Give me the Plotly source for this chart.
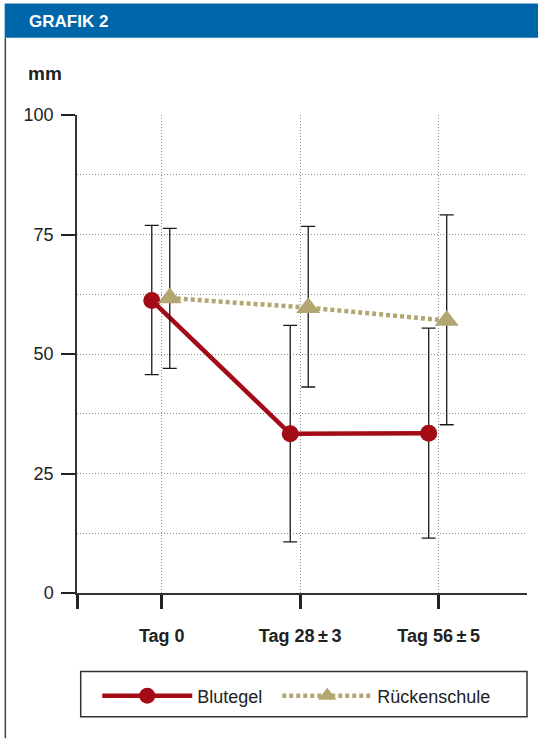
import plotly.graph_objects as go

categories = ["Tag 0", "Tag 28\u2009±\u20093", "Tag 56\u2009±\u20095"]
cat_pos = [0, 1, 2]

blutegel_mean = [61.2, 33.3, 33.4]
blutegel_upper = [76.9, 56.0, 55.4]
blutegel_lower = [45.7, 10.7, 11.5]

ruecken_mean = [61.7, 59.7, 57.0]
ruecken_upper = [76.3, 76.7, 79.1]
ruecken_lower = [47.0, 43.1, 35.2]

y_ticks = [0, 25, 50, 75, 100]

RED = "#a30c16"
KHAKI = "#b2a673"
GRID = "#8f8f8f"
GRID_DASH = "1px,2px"
FONT = "Liberation Sans Narrow, Arial Narrow, Liberation Sans, Arial, sans-serif"

W, H = 538, 739
L, R, T, B = 77.3, 11, 115, 145.5
x_left, x_right = -0.612, 2.638

off_b, off_r = -0.072, 0.058

fig = go.Figure()

fig.add_trace(go.Scatter(
    x=[p + off_b for p in cat_pos], y=blutegel_mean, name="Blutegel",
    mode="lines+markers", legend="legend",
    line=dict(color=RED, width=4.5),
    marker=dict(symbol="circle", size=17, color=RED),
    error_y=dict(type="data", symmetric=False,
                 array=[u - m for u, m in zip(blutegel_upper, blutegel_mean)],
                 arrayminus=[m - l for m, l in zip(blutegel_mean, blutegel_lower)],
                 color="#1a1a1a", thickness=1.3, width=7),
))

fig.add_trace(go.Scatter(
    x=[p + off_r for p in cat_pos], y=ruecken_mean, name="Rückenschule",
    mode="lines+markers", legend="legend2",
    line=dict(color=KHAKI, width=4.5, dash="4px,3px"),
    marker=dict(symbol="triangle-up", size=21, color=KHAKI),
    error_y=dict(type="data", symmetric=False,
                 array=[u - m for u, m in zip(ruecken_upper, ruecken_mean)],
                 arrayminus=[m - l for m, l in zip(ruecken_mean, ruecken_lower)],
                 color="#1a1a1a", thickness=1.3, width=7),
))

legend_common = dict(orientation="h", xanchor="left", y=-0.1767, yanchor="top",
                     font=dict(family=FONT, size=18, color="#222222"),
                     bgcolor="rgba(0,0,0,0)", borderwidth=0,
                     itemwidth=90, itemclick=False, itemdoubleclick=False)

fig.update_layout(
    width=W, height=H,
    margin=dict(l=L, r=R, t=T, b=B),
    paper_bgcolor="white", plot_bgcolor="white",
    font=dict(family=FONT, size=18, color="#222222"),
    showlegend=True,
    legend=dict(x=0.045, **legend_common),
    legend2=dict(x=0.445, **legend_common),
    xaxis=dict(range=[x_left, x_right], tickmode="array",
               tickvals=[x_left] + cat_pos, ticktext=[""] + categories,
               tickfont=dict(family=FONT, size=18, color="#222222", weight="bold"),
               ticks="outside", ticklen=14, tickwidth=2.5, tickcolor="#222222",
               ticklabelstandoff=12,
               showline=True, linecolor="#333333", linewidth=1.5,
               showgrid=True, gridcolor=GRID, gridwidth=1, griddash=GRID_DASH,
               zeroline=False, fixedrange=True),
    yaxis=dict(range=[0, 100], tickmode="array", tickvals=y_ticks,
               ticks="outside", ticklen=14, tickwidth=2.2, tickcolor="#222222",
               ticklabelstandoff=4,
               showline=True, linecolor="#333333", linewidth=1.5,
               showgrid=True, gridcolor=GRID, gridwidth=1, griddash=GRID_DASH,
               minor=dict(dtick=12.5, tick0=0, showgrid=True, gridcolor=GRID,
                          griddash=GRID_DASH, gridwidth=1, ticklen=0),
               zeroline=False, fixedrange=True),
)

pw = W - L - R
ph = H - T - B


def px_x(v):
    return (v - L) / pw


def px_y(v):
    return (H - B - v) / ph


# header bar
fig.add_shape(type="rect", xref="paper", yref="paper",
              x0=px_x(5), x1=px_x(538), y0=px_y(37.7), y1=px_y(3.3),
              fillcolor="#0066aa", line=dict(width=0), layer="below")
# left frame line
fig.add_shape(type="line", xref="paper", yref="paper",
              x0=px_x(5.7), x1=px_x(5.7), y0=px_y(37.7), y1=px_y(739),
              line=dict(color="#444444", width=1.5))
# legend box
fig.add_shape(type="rect", xref="paper", yref="paper",
              x0=px_x(81), x1=px_x(527), y0=px_y(717.5), y1=px_y(672),
              line=dict(color="#333333", width=1.5), fillcolor="rgba(0,0,0,0)")

fig.add_annotation(text="<b>GRAFIK 2</b>", xref="paper", yref="paper",
                   x=px_x(27), y=px_y(21), xanchor="left", yanchor="middle",
                   showarrow=False,
                   font=dict(family="Liberation Sans, Arial, sans-serif", size=17, color="white"))
fig.add_annotation(text="<b>mm</b>", xref="paper", yref="paper",
                   x=px_x(26), y=px_y(73), xanchor="left", yanchor="middle",
                   showarrow=False,
                   font=dict(family=FONT, size=19, color="#222222"))

fig.write_html("out.html", config={"displayModeBar": False},
               post_script="document.body.style.margin='0';document.body.style.overflow='hidden';")
